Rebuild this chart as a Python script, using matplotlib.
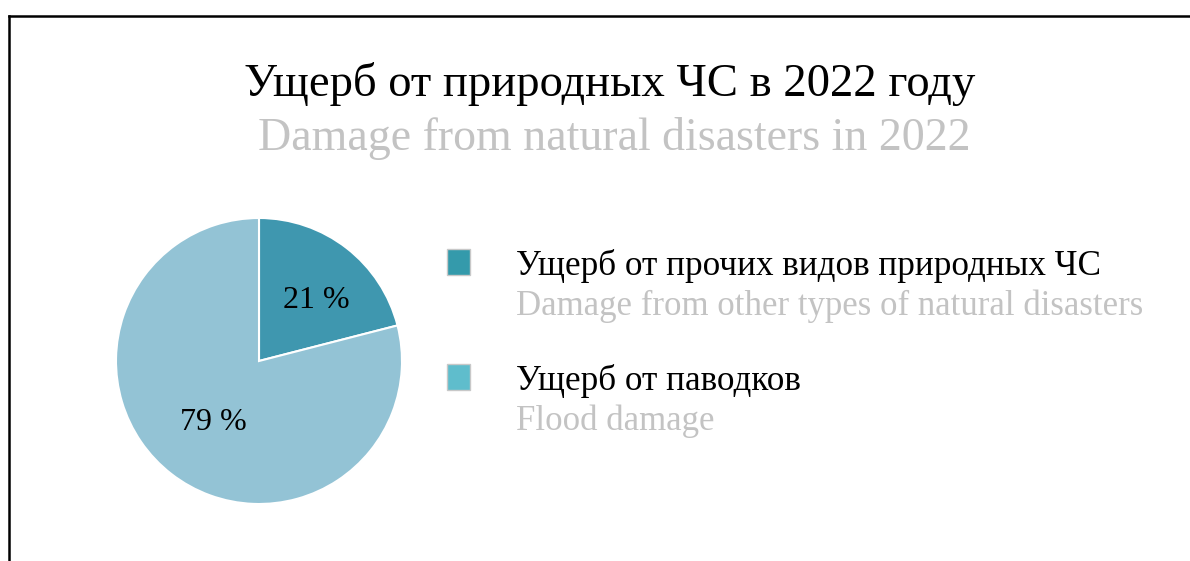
import matplotlib.pyplot as plt
from matplotlib.patches import Rectangle
from matplotlib.lines import Line2D

plt.rcParams['font.family'] = ['Liberation Serif', 'DejaVu Serif']

# Data
labels_ru = ['Ущерб от прочих видов природных ЧС', 'Ущерб от паводков']
labels_en = ['Damage from other types of natural disasters', 'Flood damage']
shares = [21, 79]
pie_colors = ['#3f97af', '#93c3d5']
legend_colors = ['#349aab', '#5fbdcc']

W, H = 1190, 561
fig = plt.figure(figsize=(W / 100, H / 100), dpi=100)
fig.patch.set_facecolor('white')

def fx(px):
    return px / W

def fy(py):
    return 1 - py / H

# frame lines
fig.add_artist(Line2D([fx(9), fx(9)], [fy(16), 0], color='black', lw=1.8))
fig.add_artist(Line2D([fx(9), 1], [fy(16), fy(16)], color='black', lw=1.8))

# titles
fig.text(fx(610), fy(84), 'Ущерб от природных ЧС в 2022 году', ha='center', va='center',
         fontsize=33.6, color='black')
fig.text(fx(614), fy(139), 'Damage from natural disasters in 2022', ha='center', va='center',
         fontsize=33, color='#c3c3c3')

# pie
cx, cy, r = 259, 361, 143
ax = fig.add_axes([fx(cx - r), fy(cy + r), (2 * r) / W, (2 * r) / H])
wedges, texts = ax.pie(shares, colors=pie_colors, startangle=90, counterclock=False,
                       wedgeprops=dict(edgecolor='white', linewidth=1.5))
ax.set_xlim(-1.0, 1.0)
ax.set_ylim(-1.0, 1.0)
ax.set_aspect('equal')

label_pos = [(0.40, 0.42), (-0.32, -0.43)]
for s, (x, y) in zip(shares, label_pos):
    ax.text(x, y, f'{s} %', ha='center', va='center', fontsize=23, color='black')

# legend
rows_y = [262, 377]
for ru, en, c, y in zip(labels_ru, labels_en, legend_colors, rows_y):
    fig.add_artist(Rectangle((fx(447), fy(y + 13)), 23 / W, 26 / H, facecolor=c,
                             edgecolor='#c8c8c8', lw=1))
    fig.text(fx(516), fy(y + 4), ru, ha='left', va='center', fontsize=25.3, color='black')
    fig.text(fx(516), fy(y + 44), en, ha='left', va='center', fontsize=25, color='#c3c3c3')

fig.savefig('out.png', dpi=100)
